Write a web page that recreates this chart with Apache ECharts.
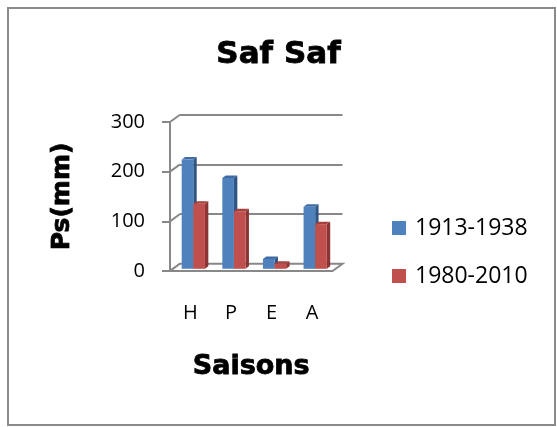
<!DOCTYPE html>
<html>
<head>
<meta charset="utf-8">
<script src="https://cdn.jsdelivr.net/npm/echarts@6/dist/echarts.min.js"></script>
<style>
html,body{margin:0;padding:0;background:#fff;}
#chart{width:557px;height:427px;}
</style>
</head>
<body>
<div id="chart"></div>
<script>
// ---- data ----
const categories = ['H', 'P', 'E', 'A'];
const series1913 = [220, 183, 20, 125];
const series1980 = [131, 116, 10, 90];
const yTicks = [0, 100, 200, 300];
const seriesNames = ['1913-1938', '1980-2010'];

// ---- style constants ----
const DX = 10, DY = -7.3;        // depth offset of the back wall
const F1 = 0.3, F2 = 0.64;       // bar front / back plane fraction of depth
const BAR_FRAC = 0.286;          // bar width / category band
const GRID_COLOR = '#888888';
const COLORS = [
  {front: '#4F81BD', side: '#2F5583', top: '#3E6BA3'},
  {front: '#C0504D', side: '#8A3533', top: '#A6413E'}
];
const heavy = {fontFamily: 'DejaVu Sans', fontWeight: 'bold', color: '#000',
  textBorderColor: '#000', textBorderWidth: 0.8};

const chart = echarts.init(document.getElementById('chart'), null, {renderer: 'canvas'});

function barRender(pos) {
  return function (params, api) {
    const i = api.value(0), v = api.value(1);
    const base = api.coord([i, 0]);
    const top = api.coord([i, v]);
    const band = api.size([1, 0])[0];
    const bw = band * BAR_FRAC;
    const left = pos === 0 ? base[0] - bw : base[0];
    const f1x = F1 * DX, f1y = F1 * DY, f2x = F2 * DX, f2y = F2 * DY;
    const c = COLORS[pos];
    return {
      type: 'group',
      children: [
        {type: 'polygon', shape: {points: [
          [left + bw + f1x, top[1] + f1y], [left + bw + f2x, top[1] + f2y],
          [left + bw + f2x, base[1] + f2y], [left + bw + f1x, base[1] + f1y]]},
          style: {fill: c.side}},
        {type: 'polygon', shape: {points: [
          [left + f1x, top[1] + f1y], [left + bw + f1x, top[1] + f1y],
          [left + bw + f2x, top[1] + f2y], [left + f2x, top[1] + f2y]]},
          style: {fill: c.top}},
        {type: 'rect', shape: {x: left + f1x, y: top[1] + f1y, width: bw, height: base[1] - top[1]},
          style: {fill: c.front}}
      ]
    };
  };
}

const option = {
  backgroundColor: '#fff',
  animation: false,
  title: {
    text: 'Saf Saf', left: 'center', top: 34,
    textStyle: Object.assign({fontSize: 31}, heavy)
  },
  legend: {
    orient: 'vertical', left: 392, top: 216.5, itemGap: 25, padding: 0,
    itemWidth: 14, itemHeight: 14, icon: 'rect',
    data: seriesNames,
    textStyle: {fontFamily: 'Open Sans', fontSize: 23, lineHeight: 23, color: '#000', padding: [0, 0, 0, 4]}
  },
  graphic: [{
    type: 'rect', shape: {x: 8, y: 8, width: 547, height: 417},
    style: {fill: 'none', stroke: '#8a8a8a', lineWidth: 2}, silent: true, z: -10
  }],
  grid: [
    {left: 170, right: 224.5, top: 122, bottom: 156},
    {left: 180, right: 214.5, top: 114.7, bottom: 163.3}
  ],
  xAxis: [
    {gridIndex: 0, type: 'category', data: categories,
      axisLine: {show: false}, axisTick: {show: false}, splitLine: {show: false},
      axisLabel: {margin: 32, fontFamily: 'Open Sans', fontSize: 20, color: '#000'},
      name: 'Saisons', nameLocation: 'middle', nameGap: 82,
      nameTextStyle: Object.assign({fontSize: 27}, heavy)},
    {gridIndex: 1, type: 'category', data: categories, show: false}
  ],
  yAxis: [
    {gridIndex: 0, type: 'value', min: 0, max: 300, interval: 100,
      axisLine: {show: true, lineStyle: {color: GRID_COLOR, width: 2}},
      axisTick: {show: true, inside: false, length: 8, lineStyle: {color: GRID_COLOR, width: 2}},
      splitLine: {show: false},
      axisLabel: {margin: 25, fontFamily: 'Open Sans', fontSize: 20, color: '#000'},
      name: 'Ps(mm)', nameLocation: 'middle', nameRotate: 90, nameGap: 95,
      nameTextStyle: Object.assign({fontSize: 25}, heavy)},
    {gridIndex: 1, type: 'value', min: 0, max: 300, interval: 100,
      axisLine: {show: false}, axisTick: {show: false}, axisLabel: {show: false},
      splitLine: {show: true, lineStyle: {color: GRID_COLOR, width: 2}}}
  ],
  series: [
    {
      type: 'custom', name: 'wall', xAxisIndex: 0, yAxisIndex: 0, silent: true, z: 1,
      data: yTicks.map(v => [0, v]), encode: {x: 0, y: 1},
      renderItem: function (params, api) {
        const x0 = params.coordSys.x;
        const y = api.coord([0, api.value(1)])[1];
        return {type: 'line', shape: {x1: x0, y1: y, x2: x0 + DX, y2: y + DY},
          style: {stroke: GRID_COLOR, lineWidth: 2}};
      }
    },
    {
      type: 'custom', name: 'floor', xAxisIndex: 0, yAxisIndex: 0, silent: true, z: 2,
      data: [[0, 0]], encode: {x: 0, y: 1},
      renderItem: function (params, api) {
        const cs = params.coordSys;
        const y0 = api.coord([0, 0])[1];
        const xl = cs.x, xr = cs.x + cs.width;
        return {type: 'polygon', shape: {points: [[xl, y0], [xr, y0], [xr + DX, y0 + DY], [xl + DX, y0 + DY]]},
          style: {fill: '#fff', stroke: GRID_COLOR, lineWidth: 2}};
      }
    },
    {
      type: 'custom', name: seriesNames[0], xAxisIndex: 0, yAxisIndex: 0, z: 3,
      itemStyle: {color: COLORS[0].front},
      data: series1913.map((v, i) => [i, v]), encode: {x: 0, y: 1},
      renderItem: barRender(0)
    },
    {
      type: 'custom', name: seriesNames[1], xAxisIndex: 0, yAxisIndex: 0, z: 4,
      itemStyle: {color: COLORS[1].front},
      data: series1980.map((v, i) => [i, v]), encode: {x: 0, y: 1},
      renderItem: barRender(1)
    }
  ]
};
chart.setOption(option);
</script>
</body>
</html>
